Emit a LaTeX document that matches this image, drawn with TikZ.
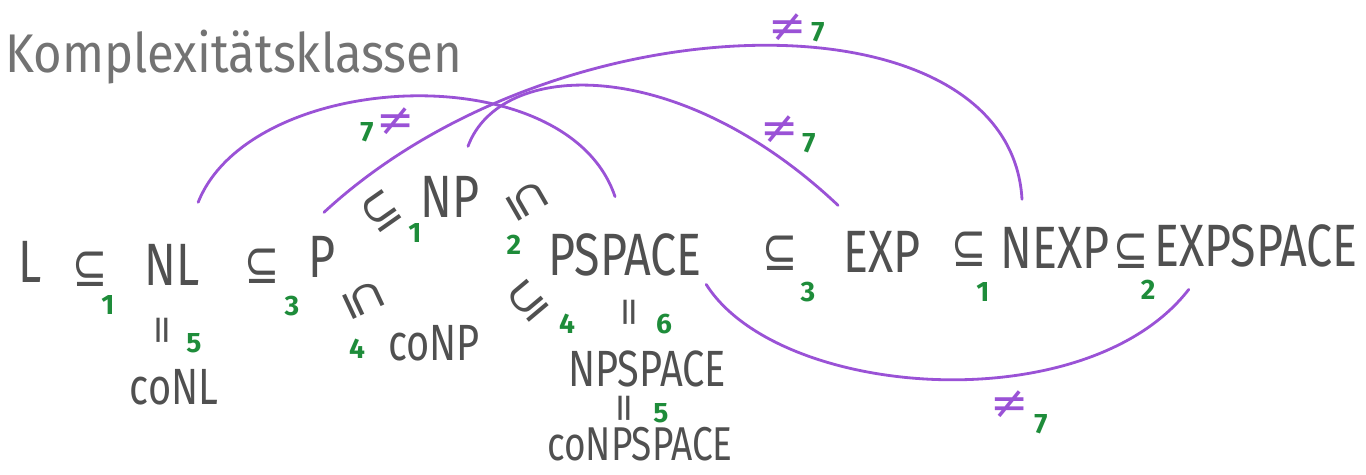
\documentclass[tikz,border=0pt]{standalone}
\usepackage{fontspec}
\setmainfont{Fira Sans}
\newfontfamily\symfont{DejaVu Sans}
\usetikzlibrary{calc}

\definecolor{pencil}{HTML}{505050}
\definecolor{marker}{HTML}{1E8C3A}
\definecolor{lila}{HTML}{9A52D6}

\begin{document}
\begin{tikzpicture}[
  x=0.2mm, y=-0.2mm,
  title/.style={text=pencil!80, font=\fontsize{31}{34}\selectfont,
                inner sep=0pt, xscale=0.9},
  cls/.style={text=pencil, font=\fontsize{34}{38}\selectfont,
              inner sep=1pt, xscale=0.78},
  subcls/.style={cls, font=\fontsize{29}{32}\selectfont},
  rel/.style={text=pencil, font=\symfont\fontsize{32}{34}\selectfont,
              inner sep=0pt, xscale=0.75},
  eqv/.style={text=pencil, font=\symfont\fontsize{22}{24}\selectfont,
              inner sep=0pt, rotate=90},
  idx/.style={text=marker, font=\bfseries\fontsize{16}{18}\selectfont,
              inner sep=0pt},
  neq/.style={text=lila, font=\symfont\fontsize{26}{28}\selectfont,
              inner sep=0pt},
  sep/.style={draw=lila, line width=1.6pt, line cap=round},
]
\useasboundingbox (0,0) rectangle (1366,474);

% ---- Titel ----
\node[title, anchor=base west] (head) at (5,72) {Komplexitätsklassen};

% ---- Klassen ----
\node[cls]    (L)         at (30,262)   {L};
\node[cls]    (NL)        at (172,265)  {NL};
\node[subcls] (coNL)      at (174,387)  {coNL};
\node[cls]    (P)         at (322,257)  {P};
\node[cls]    (NP)        at (450,197)  {NP};
\node[subcls] (coNP)      at (434,343)  {coNP};
\node[cls]    (PSPACE)    at (625,255)  {PSPACE};
\node[subcls] (NPSPACE)   at (647,369)  {NPSPACE};
\node[subcls, font=\fontsize{27}{30}\selectfont]
              (coNPSPACE) at (640,444)  {coNPSPACE};
\node[cls]    (EXP)       at (882,252)  {EXP};
\node[cls]    (NEXP)      at (1055,248) {NEXP};
\node[cls]    (EXPSPACE)  at (1256,246) {EXPSPACE};

% ---- Inklusionen ----
\node[rel] (s-L-NL)        at (90,269)  {⊆};
\node[idx] (i-L-NL)        at (108,305) {1};
\node[rel] (s-NL-P)        at (262,266) {⊆};
\node[idx] (i-NL-P)        at (292,306) {3};
\node[rotate=35, rel]  (s-P-NP)      at (381,211) {⊆};
\node[idx] (i-P-NP)        at (415,233) {1};
\node[rotate=-60, rel] (s-NP-PS)     at (527,201) {⊆};
\node[idx] (i-NP-PS)       at (514,245) {2};
\node[rotate=-65, rel] (s-P-coNP)    at (364,300) {⊆};
\node[idx] (i-P-coNP)      at (357,349) {4};
\node[rotate=40, rel]  (s-coNP-PS)   at (528,301) {⊆};
\node[idx] (i-coNP-PS)     at (567,324) {4};
\node[rel] (s-PS-EXP)      at (780,253) {⊆};
\node[idx] (i-PS-EXP)      at (808,292) {3};
\node[rel] (s-EXP-NEXP)    at (969,249) {⊆};
\node[idx] (i-EXP-NEXP)    at (983,292) {1};
\node[rel] (s-NEXP-ES)     at (1131,251) {⊆};
\node[idx] (i-NEXP-ES)     at (1148,290) {2};

% ---- Gleichheiten ----
\node[eqv] (e-NL)      at (166,330) {=};
\node[idx] (i-NL)      at (194,343) {5};
\node[eqv] (e-PS)      at (633,312) {=};
\node[idx] (i-PS)      at (664,324) {6};
\node[eqv] (e-NPS)     at (628,408) {=};
\node[idx] (i-NPS)     at (661,413) {5};

% ---- Trennungen ----
\draw[sep] ([shift={(-3,-40)}]NL.north east)
  .. controls +(53,-133) and +(-48,-143) .. ([shift={(-10,-35)}]PSPACE.north);
\draw[sep] ([shift={(2,-22)}]P.north)
  .. controls +(236,-218) and +(-12,-210) .. ([shift={(-33,-26)}]NEXP.north);
\draw[sep] ([shift={(18,-28)}]NP.north)
  .. controls +(32,-87) and +(-161,-152) .. ([shift={(-44,-24)}]EXP.north);
\draw[sep] ([shift={(3,6)}]PSPACE.south east)
  .. controls +(73,115) and +(-102,132) .. ([shift={(36,20)}]EXPSPACE.south west);

\node[neq] (n-NL-PS)   at (396,122)  {≠};
\node[idx] (j-NL-PS)   at (367,132)  {7};
\node[neq] (n-P-NEXP)  at (788,28)   {≠};
\node[idx] (j-P-NEXP)  at (818,32)   {7};
\node[neq] (n-NP-EXP)  at (780,130)  {≠};
\node[idx] (j-NP-EXP)  at (809,143)  {7};
\node[neq] (n-PS-ES)   at (1010,405) {≠};
\node[idx] (j-PS-ES)   at (1041,424) {7};

\end{tikzpicture}
\end{document}
